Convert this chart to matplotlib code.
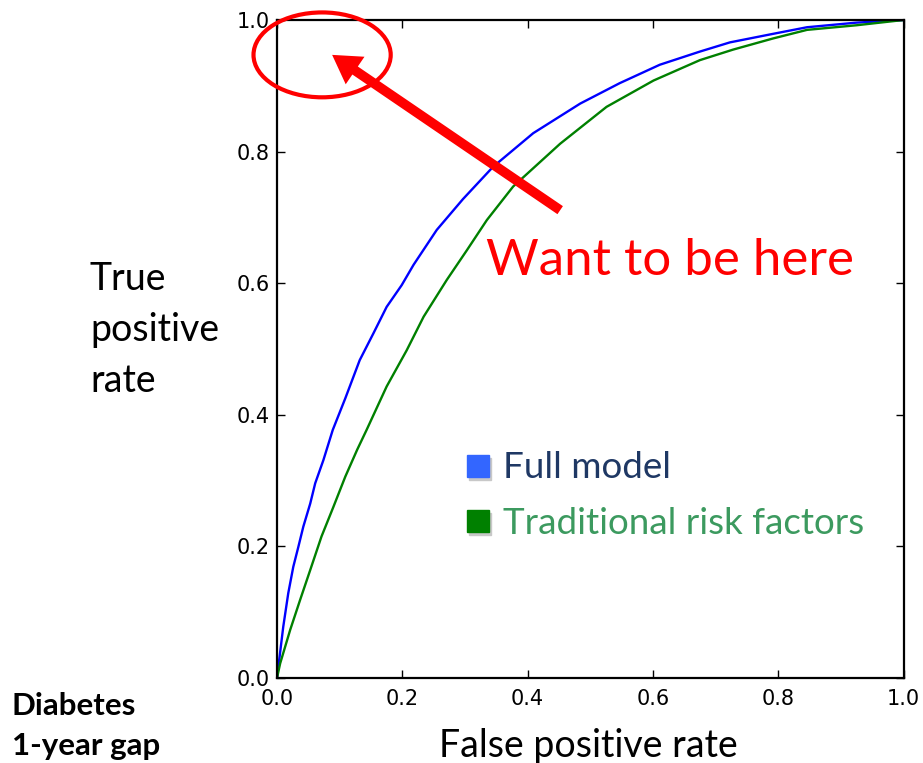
import matplotlib
matplotlib.use('Agg')
import matplotlib.pyplot as plt
from matplotlib.patches import Ellipse, Rectangle

# --- ROC curve values ---
fpr_full = [0, 0.010, 0.018, 0.026, 0.034, 0.042, 0.053, 0.061, 0.074, 0.089,
            0.109, 0.132, 0.154, 0.175, 0.199, 0.218, 0.255, 0.297, 0.345, 0.409,
            0.484, 0.547, 0.611, 0.675, 0.723, 0.792, 0.846, 0.925, 1.0]
tpr_full = [0, 0.078, 0.129, 0.169, 0.199, 0.230, 0.265, 0.296, 0.331, 0.377,
            0.425, 0.483, 0.524, 0.564, 0.597, 0.628, 0.681, 0.728, 0.777, 0.828,
            0.873, 0.904, 0.932, 0.952, 0.966, 0.979, 0.989, 0.996, 1.0]

fpr_trad = [0, 0.005, 0.021, 0.037, 0.053, 0.071, 0.090, 0.109, 0.128, 0.143,
            0.175, 0.207, 0.234, 0.271, 0.303, 0.335, 0.377, 0.452, 0.526, 0.601,
            0.675, 0.728, 0.792, 0.846, 0.925, 1.0]
tpr_trad = [0, 0.022, 0.073, 0.119, 0.164, 0.215, 0.260, 0.306, 0.347, 0.377,
            0.443, 0.498, 0.549, 0.605, 0.650, 0.696, 0.747, 0.812, 0.868, 0.908,
            0.939, 0.955, 0.972, 0.985, 0.992, 1.0]

series_labels = ['Full model', 'Traditional risk factors']
tick_vals = [0.0, 0.2, 0.4, 0.6, 0.8, 1.0]

W, H = 923, 763
TXT_FONT = ['Lato', 'DejaVu Sans']

fig = plt.figure(figsize=(W / 100, H / 100), dpi=100)
ax = fig.add_axes([277 / W, 1 - 678 / H, (903.5 - 277) / W, (678 - 20) / H])

ax.plot(fpr_full, tpr_full, color='#0000ff', lw=1.7)
ax.plot(fpr_trad, tpr_trad, color='#008000', lw=1.7)

ax.set_xlim(0, 1)
ax.set_ylim(0, 1)
ax.set_xticks(tick_vals)
ax.set_yticks(tick_vals)
ax.set_xticklabels([f'{v:.1f}' for v in tick_vals])
ax.set_yticklabels([f'{v:.1f}' for v in tick_vals])
ax.tick_params(direction='in', top=True, right=True, length=6, width=1,
               labelsize=15)
ax.tick_params(axis='x', pad=8)
ax.tick_params(axis='y', pad=5)
for sp in ax.spines.values():
    sp.set_linewidth(1.6)

# --- annotation: target ellipse + arrow ---
ell = Ellipse((0.072, 0.947), 0.219, 0.129, fill=False, edgecolor='#ff0000',
              lw=3, clip_on=False, zorder=5)
ax.add_patch(ell)
ax.annotate('', xy=(0.088, 0.947), xytext=(0.452, 0.711),
            arrowprops=dict(width=7, headwidth=24, headlength=20,
                            facecolor='#ff0000', edgecolor='none'),
            annotation_clip=False, zorder=6)

fig.text(670 / W, 1 - 261 / H, 'Want to be here', color='#ff0000',
         fontsize=36.7, family=TXT_FONT, ha='center', va='center')

# --- axis titles and side note ---
fig.text(90 / W, 1 - 330 / H, 'True\npositive\nrate', fontsize=27,
         family=TXT_FONT, ha='left', va='center', linespacing=1.52)
fig.text(588 / W, 1 - 746 / H, 'False positive rate', fontsize=27,
         family=TXT_FONT, ha='center', va='center')
fig.text(12 / W, 1 - 726 / H, 'Diabetes\n1-year gap', fontsize=22.5,
         family=TXT_FONT, weight='bold', ha='left', va='center',
         linespacing=1.5)

# --- legend squares and labels ---
legend_items = [
    (series_labels[0], '#3366ff', '#1f3864', 466),
    (series_labels[1], '#008000', '#3c9a5f', 521),
]
for label, sq_col, txt_col, yc in legend_items:
    fig.add_artist(Rectangle(((467 + 2) / W, 1 - (yc + 11 + 3) / H), 22 / W, 22 / H,
                             transform=fig.transFigure, color='#c8c8c8',
                             zorder=4))
    fig.add_artist(Rectangle((467 / W, 1 - (yc + 11) / H), 22 / W, 22 / H,
                             transform=fig.transFigure, color=sq_col, zorder=5))
    fig.text(503 / W, 1 - (yc + 2) / H, label, color=txt_col, fontsize=26.5,
             family=TXT_FONT, ha='left', va='center')

fig.savefig('out.png', dpi=100)
